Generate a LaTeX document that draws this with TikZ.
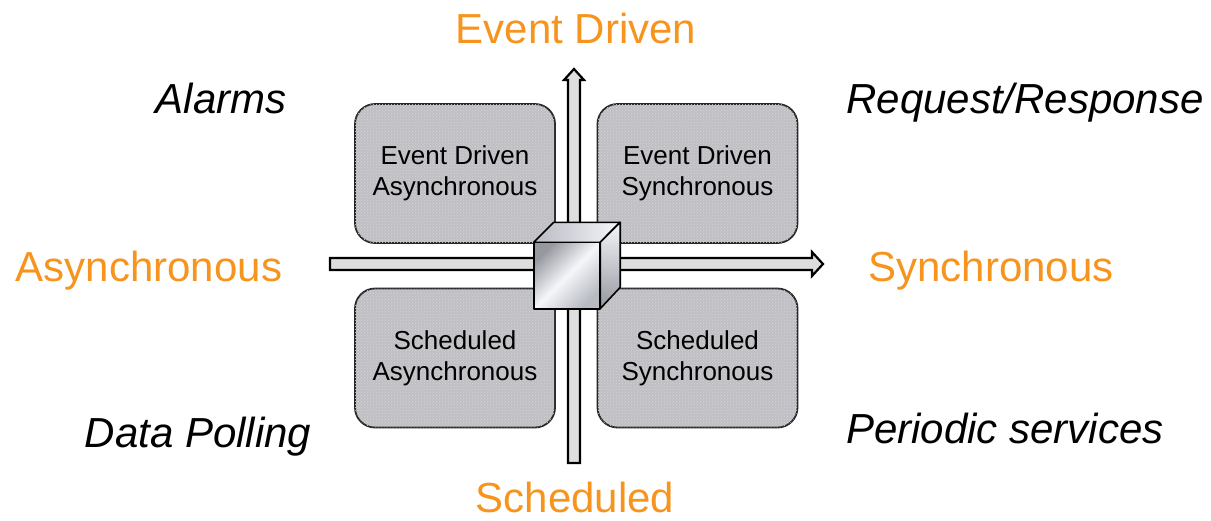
\documentclass[tikz,border=0pt]{standalone}
\usepackage{fontspec}
\setmainfont{Liberation Sans}
\usetikzlibrary{patterns}
\definecolor{axisorange}{RGB}{247,148,29}
\definecolor{boxgray}{RGB}{192,192,196}
\definecolor{dotgray}{RGB}{212,212,216}
\definecolor{shaftgray}{RGB}{222,222,222}
\definecolor{steeldark}{RGB}{150,152,160}
\definecolor{steelmid}{RGB}{185,187,195}
\definecolor{steellight}{RGB}{245,246,250}
\begin{document}
\begin{tikzpicture}[x=1pt,y=-1pt,
  quadrant/.style={draw=black!85, line width=1.8pt, rounded corners=20pt,
    fill=boxgray, minimum width=200pt, minimum height=139pt, inner sep=0pt,
    align=center, font=\fontsize{26}{31}\selectfont,
    postaction={pattern=crosshatch dots, pattern color=dotgray}},
  axislabel/.style={anchor=base, text=axisorange, font=\fontsize{42}{50}\selectfont, inner sep=0pt},
  caselabel/.style={anchor=base, text=black, font=\fontsize{42}{50}\selectfont\itshape, inner sep=0pt},
  axisarrow/.style={draw=black, line width=2.2pt, fill=shaftgray, line join=miter},
  cubeface/.style={draw=black, line width=1.6pt, line join=round}]
\useasboundingbox (0,0) rectangle (1211,520);

% four quadrants
\node[quadrant] (ea) at (455,173.5) {Event Driven\\Asynchronous};
\node[quadrant] (es) at (697.5,173.5) {Event Driven\\Synchronous};
\node[quadrant] (sa) at (455,358) {Scheduled\\Asynchronous};
\node[quadrant] (ss) at (697.5,358) {Scheduled\\Synchronous};

% axis end points
\coordinate (vbot) at (574,463);
\coordinate (vtip) at (574,69);
\coordinate (hleft) at (330,264);
\coordinate (htip) at (823,264);

% vertical axis arrow (scheduled -> event driven)
\draw[axisarrow] ([xshift=-6pt]vbot) -- ([xshift=-6pt,yshift=-11pt]vtip)
  -- ([xshift=-10pt,yshift=-11pt]vtip) -- (vtip) -- ([xshift=10pt,yshift=-11pt]vtip)
  -- ([xshift=6pt,yshift=-11pt]vtip) -- ([xshift=6pt]vbot) -- cycle;

% horizontal axis arrow (asynchronous -> synchronous)
\draw[axisarrow] ([yshift=-6pt]hleft) -- ([xshift=-11pt,yshift=-6pt]htip)
  -- ([xshift=-11pt,yshift=-12pt]htip) -- (htip) -- ([xshift=-11pt,yshift=12pt]htip)
  -- ([xshift=-11pt,yshift=6pt]htip) -- ([yshift=6pt]hleft) -- cycle;

% metallic cube at the origin
\node[minimum size=66pt, inner sep=0pt] (cube) at (567,275.5) {};
\shade[cubeface, left color=steelmid, right color=steellight]
  (cube.north west) -- ++(20,-20) -- ++(66,0) -- (cube.north east) -- cycle;
\shade[cubeface, top color=steellight, bottom color=steeldark]
  (cube.north east) -- ++(20,-20) -- ++(0,65) -- (cube.south east) -- cycle;
\shade[cubeface, top color=steeldark, bottom color=steelmid, middle color=steellight,
  shading angle=45]
  (cube.north west) rectangle (cube.south east);

% axis labels
\node[axislabel] (ed) at (576,43) {Event Driven};
\node[axislabel] (sch) at (575,512) {Scheduled};
\node[axislabel] (asy) at (149,281) {Asynchronous};
\node[axislabel] (syn) at (991,281) {Synchronous};

% example use cases
\node[caselabel] (alarm) at (221,113) {Alarms};
\node[caselabel] (rr) at (1025,113) {Request/Response};
\node[caselabel] (dp) at (198,447) {Data Polling};
\node[caselabel] (ps) at (1005,443) {Periodic services};
\end{tikzpicture}
\end{document}
